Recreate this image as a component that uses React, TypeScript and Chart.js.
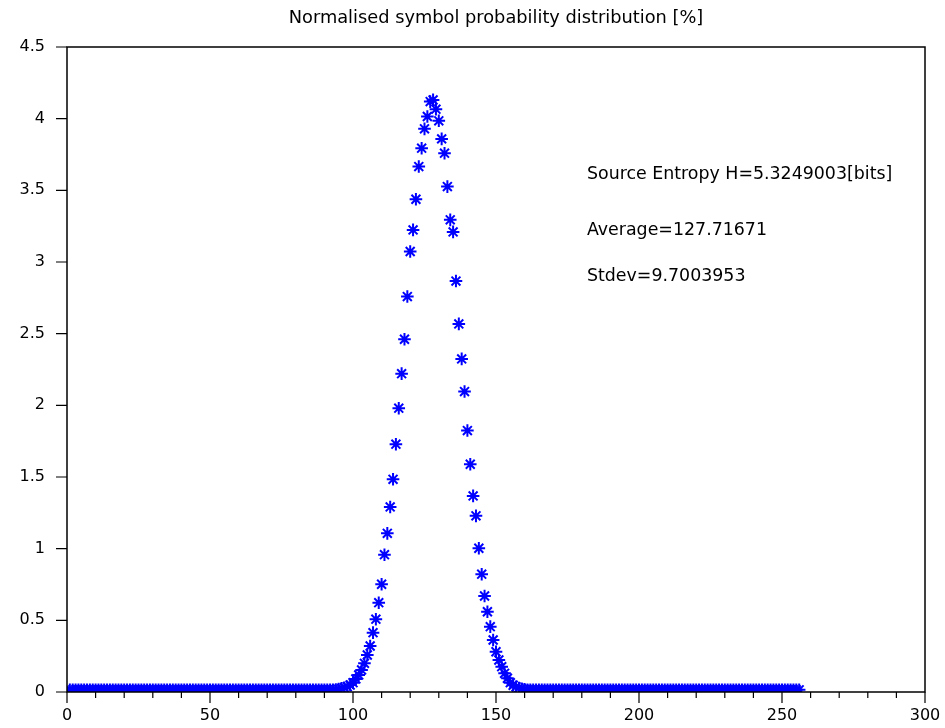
import React, { useEffect, useRef } from "react";
import { Chart, registerables } from "chart.js";

Chart.register(...registerables);

const TITLE = "Normalised symbol probability distribution [%]";
const ANNOTATION_LINES = [
  "Source Entropy H=5.3249003[bits]",
  "Average=127.71671",
  "Stdev=9.7003953",
];
const ANNOTATION_X = 181.8;
const ANNOTATION_Y = [3.608, 3.217, 2.896];

const X_MIN = 0;
const X_MAX = 300;
const X_STEP = 50;
const X_MINOR_STEP = 10;
const Y_MIN = 0;
const Y_MAX = 4.5;
const Y_STEP = 0.5;

// symbol indices 1..256
const symbols: number[] = Array.from({ length: 256 }, (_, k) => k + 1);

// probabilities [%] for symbols 1..92
const leftTail: number[] = [
  0.015, 0.015, 0.015, 0.015, 0.015, 0.015, 0.015, 0.015, 0.015, 0.015,
  0.015, 0.015, 0.015, 0.015, 0.015, 0.015, 0.015, 0.015, 0.015, 0.015,
  0.015, 0.015, 0.015, 0.015, 0.015, 0.015, 0.015, 0.015, 0.015, 0.015,
  0.015, 0.015, 0.015, 0.015, 0.015, 0.015, 0.015, 0.015, 0.015, 0.015,
  0.015, 0.015, 0.015, 0.015, 0.015, 0.015, 0.015, 0.015, 0.015, 0.015,
  0.015, 0.015, 0.015, 0.015, 0.015, 0.015, 0.015, 0.015, 0.015, 0.015,
  0.015, 0.015, 0.015, 0.015, 0.015, 0.015, 0.015, 0.015, 0.015, 0.015,
  0.015, 0.015, 0.015, 0.015, 0.015, 0.015, 0.015, 0.015, 0.015, 0.015,
  0.015, 0.015, 0.015, 0.015, 0.015, 0.015, 0.015, 0.015, 0.015, 0.015,
  0.015, 0.015,
];

// probabilities [%] for symbols 93..161
const peak: number[] = [
  0.015, 0.017, 0.02, 0.025, 0.03, 0.037, 0.049, 0.065, 0.091, 0.119,
  0.154, 0.2, 0.258, 0.321, 0.414, 0.508, 0.623, 0.752, 0.958, 1.107,
  1.291, 1.484, 1.729, 1.98, 2.221, 2.461, 2.759, 3.073, 3.224, 3.438,
  3.666, 3.794, 3.929, 4.015, 4.119, 4.131, 4.066, 3.985, 3.859, 3.759,
  3.526, 3.294, 3.21, 2.867, 2.568, 2.324, 2.096, 1.824, 1.589, 1.368,
  1.229, 1.003, 0.822, 0.67, 0.56, 0.456, 0.363, 0.281, 0.223, 0.177,
  0.13, 0.096, 0.065, 0.047, 0.036, 0.028, 0.022, 0.018, 0.016,
];

// probabilities [%] for symbols 162..256
const rightTail: number[] = [
  0.015, 0.015, 0.015, 0.015, 0.015, 0.015, 0.015, 0.015, 0.015, 0.015,
  0.015, 0.015, 0.015, 0.015, 0.015, 0.015, 0.015, 0.015, 0.015, 0.015,
  0.015, 0.015, 0.015, 0.015, 0.015, 0.015, 0.015, 0.015, 0.015, 0.015,
  0.015, 0.015, 0.015, 0.015, 0.015, 0.015, 0.015, 0.015, 0.015, 0.015,
  0.015, 0.015, 0.015, 0.015, 0.015, 0.015, 0.015, 0.015, 0.015, 0.015,
  0.015, 0.015, 0.015, 0.015, 0.015, 0.015, 0.015, 0.015, 0.015, 0.015,
  0.015, 0.015, 0.015, 0.015, 0.015, 0.015, 0.015, 0.015, 0.015, 0.015,
  0.015, 0.015, 0.015, 0.015, 0.015, 0.015, 0.015, 0.015, 0.015, 0.015,
  0.015, 0.015, 0.015, 0.015, 0.015, 0.015, 0.015, 0.015, 0.015, 0.015,
  0.015, 0.015, 0.015, 0.015, 0.015,
];

const probability: number[] = [...leftTail, ...peak, ...rightTail];

const FONT_FAMILY = "'DejaVu Sans', sans-serif";

const framePlugin = {
  id: "scilabFrame",
  afterDraw(chart: any) {
    const { ctx, chartArea } = chart;
    const xs = chart.scales.x;
    const ys = chart.scales.y;
    const { left, right, top, bottom } = chartArea;
    ctx.save();
    ctx.strokeStyle = "#000";
    ctx.lineWidth = 1.5;
    ctx.strokeRect(left, top, right - left, bottom - top);
    ctx.lineWidth = 1.2;
    ctx.beginPath();
    for (let v = X_MIN; v <= X_MAX + 1e-9; v += X_MINOR_STEP) {
      const px = xs.getPixelForValue(v);
      const len = v % X_STEP === 0 ? 11 : 6;
      ctx.moveTo(px, bottom);
      ctx.lineTo(px, bottom + len);
    }
    for (let v = Y_MIN; v <= Y_MAX + 1e-9; v += Y_STEP) {
      const py = ys.getPixelForValue(v);
      ctx.moveTo(left, py);
      ctx.lineTo(left - 11, py);
    }
    ctx.stroke();

    ctx.fillStyle = "#000";
    ctx.textBaseline = "middle";
    ctx.textAlign = "center";
    ctx.font = `17.8px ${FONT_FAMILY}`;
    ctx.fillText(TITLE, (left + right) / 2, 18);

    ctx.font = `17.4px ${FONT_FAMILY}`;
    ctx.textAlign = "left";
    ANNOTATION_LINES.forEach((t, i) => {
      ctx.fillText(t, xs.getPixelForValue(ANNOTATION_X), ys.getPixelForValue(ANNOTATION_Y[i]));
    });
    ctx.restore();
  },
};

export default function App() {
  const ref = useRef<HTMLCanvasElement | null>(null);
  useEffect(() => {
    if (!ref.current) return;
    const chart = new Chart(ref.current, {
      type: "scatter",
      data: {
        datasets: [
          {
            label: "probability",
            data: symbols.map((s, i) => ({ x: s, y: probability[i] })),
            pointStyle: "star",
            pointRadius: 6.3,
            pointBorderWidth: 2,
            borderColor: "#0000ff",
            backgroundColor: "#0000ff",
            clip: 0,
          } as any,
        ],
      },
      options: {
        animation: false,
        responsive: false,
        maintainAspectRatio: false,
        layout: { padding: { left: 0, right: 20, top: 47, bottom: 0 } },
        plugins: {
          legend: { display: false },
          tooltip: { enabled: false },
          title: { display: false },
        },
        scales: {
          x: {
            type: "linear",
            min: X_MIN,
            max: X_MAX,
            grid: { display: false, drawTicks: false },
            border: { display: false },
            ticks: {
              stepSize: X_STEP,
              padding: 14,
              color: "#000",
              font: { family: FONT_FAMILY, size: 16 },
              maxRotation: 0,
            },
            afterFit: (s: any) => {
              s.height = 36;
              s.paddingLeft = 0;
              s.paddingRight = 0;
            },
          },
          y: {
            type: "linear",
            min: Y_MIN,
            max: Y_MAX,
            grid: { display: false, drawTicks: false },
            border: { display: false },
            ticks: {
              stepSize: Y_STEP,
              padding: 22,
              color: "#000",
              font: { family: FONT_FAMILY, size: 16 },
              callback: (v: any) => `${+v}`,
            },
            afterFit: (s: any) => {
              s.width = 67;
              s.paddingTop = 0;
              s.paddingBottom = 0;
            },
          },
        },
      },
      plugins: [framePlugin],
    });
    return () => chart.destroy();
  }, []);
  return (
    <div style={{ position: "absolute", left: 0, top: 0, width: 945, height: 728, background: "#fff" }}>
      <canvas ref={ref} width={945} height={728} style={{ display: "block" }} />
    </div>
  );
}
